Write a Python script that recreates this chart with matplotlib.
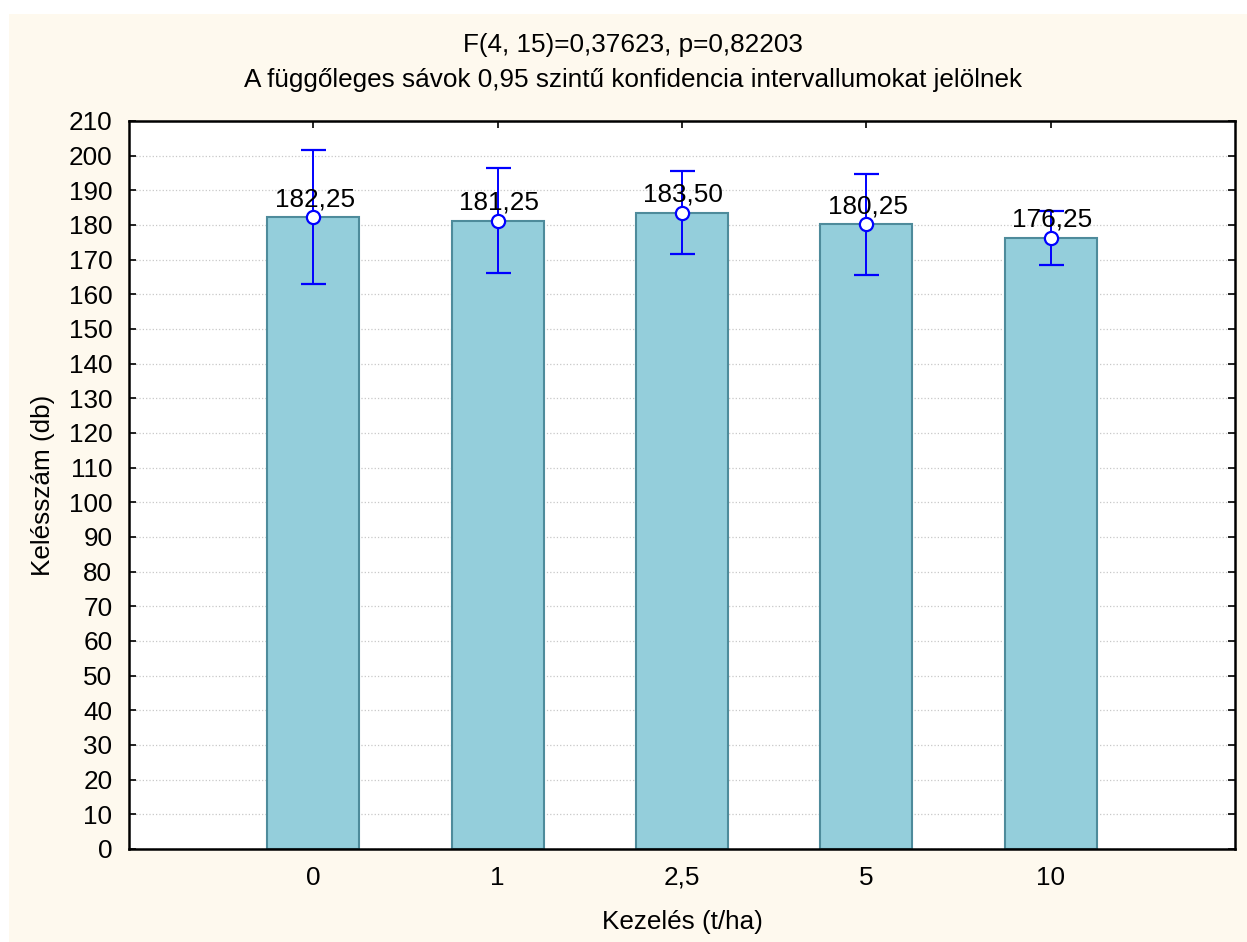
import numpy as np
import matplotlib
matplotlib.use("Agg")
import matplotlib.pyplot as plt
from matplotlib.patches import Rectangle

plt.rcParams['font.family'] = ['Liberation Sans', 'DejaVu Sans']

# data
treatments = ['0', '1', '2,5', '5', '10']
means = [182.25, 181.25, 183.50, 180.25, 176.25]
ci_half = [19.4, 15.2, 12.0, 14.6, 7.9]
value_labels = ['182,25', '181,25', '183,50', '180,25', '176,25']

title_1 = 'F(4, 15)=0,37623, p=0,82203'
title_2 = 'A függőleges sávok 0,95 szintű konfidencia intervallumokat jelölnek'
y_ticks = list(range(0, 211, 10))

fs = 18.8

fig = plt.figure(figsize=(12.47, 9.42), dpi=100)
fig.patch.set_facecolor('white')
# cream panel behind the plot
fig.patches.append(Rectangle((9 / 1247, 0), 1 - 9 / 1247, 1 - 14 / 942,
                             transform=fig.transFigure, facecolor='#fef9ee',
                             edgecolor='none', zorder=-10))

ax = fig.add_axes([129 / 1247, 1 - 849 / 942, (1235 - 129) / 1247, (849 - 121) / 942])
ax.set_facecolor('white')

x = np.arange(len(treatments))
ax.bar(x, means, width=0.5, color='#94cedb', edgecolor='#4e8b9b', linewidth=1.5, zorder=2)
ax.errorbar(x, means, yerr=ci_half, fmt='o', color='#0000ff', ecolor='#0000ff',
            elinewidth=1.4, capsize=9, capthick=1.4, markersize=9.5,
            markerfacecolor='white', markeredgecolor='#0000ff', markeredgewidth=1.6, zorder=3)

for xi, m, lab in zip(x, means, value_labels):
    ax.annotate(lab, (xi, m), xytext=(1, 8), textcoords='offset points',
                ha='center', va='baseline', fontsize=fs, color='black', zorder=4)

ax.set_xlim(-1, 5)
ax.set_ylim(0, 210)
ax.set_yticks(y_ticks)
ax.set_xticks(x)
ax.set_xticklabels(treatments)
ax.tick_params(axis='both', direction='in', length=5, width=1.2, labelsize=fs, pad=12,
               right=True, top=True)
ax.yaxis.grid(True, linestyle=':', color='#c8c8c8', linewidth=0.9, zorder=0)
ax.set_axisbelow(True)
for s in ax.spines.values():
    s.set_linewidth(1.8)
    s.set_color('black')

ax.set_xlabel('Kezelés (t/ha)', fontsize=fs, labelpad=15)
ax.set_ylabel('Kelésszám (db)', fontsize=fs, labelpad=10)

fig.text(633 / 1247, 1 - 45 / 942, title_1, ha='center', va='center', fontsize=fs)
fig.text(633 / 1247, 1 - 80 / 942, title_2, ha='center', va='center', fontsize=fs)

fig.savefig('out.png', dpi=100, facecolor=fig.get_facecolor())
